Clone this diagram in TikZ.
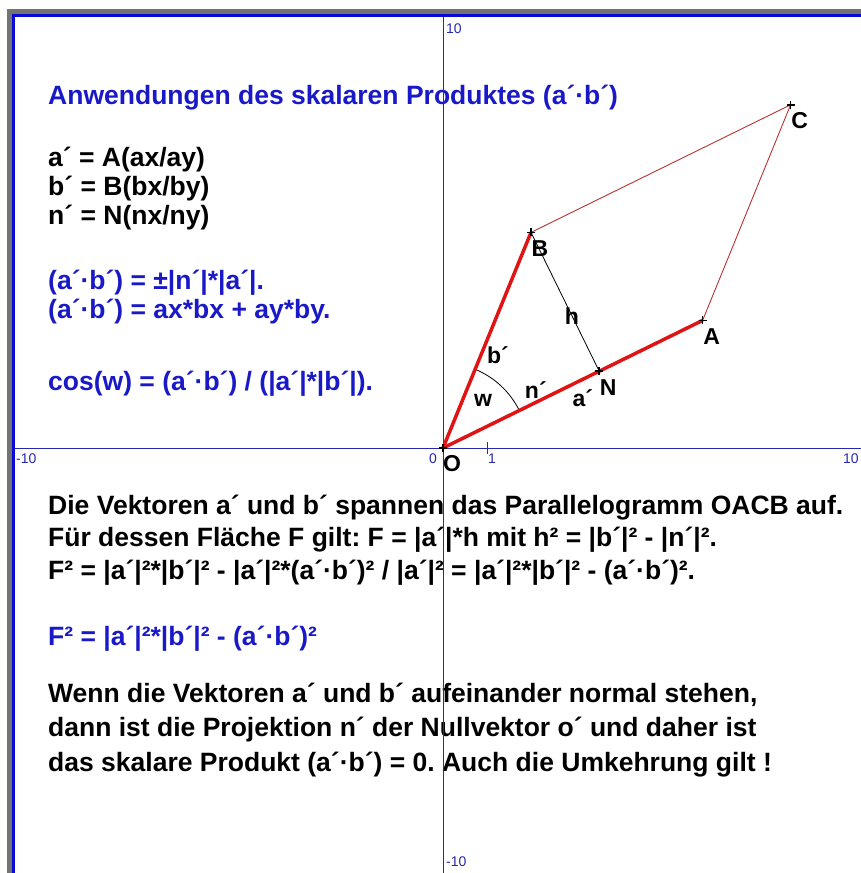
\documentclass[tikz,border=0pt]{standalone}
\usepackage{fontspec}
\setmainfont{Liberation Sans}
\usetikzlibrary{calc,angles}
\frenchspacing

\definecolor{textblau}{RGB}{25,25,200}
\definecolor{achsblau}{RGB}{40,40,175}
\definecolor{rahmblau}{RGB}{10,10,215}
\definecolor{rahmgrau}{RGB}{115,115,115}
\definecolor{vecrot}{RGB}{225,20,20}
\definecolor{seitrot}{RGB}{185,50,50}

\begin{document}
\begin{tikzpicture}[
    x=1pt, y=-1pt,
    txt/.style={anchor=base west, inner sep=0pt, font=\bfseries\fontsize{26.5}{30}\selectfont},
    formel/.style={txt, text=textblau},
    achse/.style={achsblau, line width=1pt},
    zahl/.style={text=achsblau, inner sep=0pt, font=\fontsize{14}{16}\selectfont},
    vec/.style={vecrot, line width=3.5pt},
    seite/.style={seitrot, line width=0.9pt},
    kreuz/.style={line width=1.5pt},
    lbl/.style={inner sep=0pt, font=\bfseries\fontsize{23}{26}\selectfont},
    ptlbl/.style={lbl, xshift=9pt, yshift=-16pt}
]
    \useasboundingbox (0,0) rectangle (861,873);

    % Fensterrahmen
    \fill[rahmgrau] (7,9) rectangle (861,14);
    \fill[rahmgrau] (7,9) rectangle (12,873);
    \draw[rahmblau, line width=3pt] (13.5,873) -- (13.5,15.5) -- (861,15.5);

    % Texte
    \node[formel] (titel) at (48,104) {Anwendungen des skalaren Produktes (a´·b´)};
    \node[txt] (za) at (48,166) {a´ = A(ax/ay)};
    \node[txt] (zb) at (48,195) {b´ = B(bx/by)};
    \node[txt] (zn) at (48,224) {n´ = N(nx/ny)};
    \node[formel] (f1) at (48,289) {(a´·b´) = ±|n´|*|a´|.};
    \node[formel] (f2) at (48,318) {(a´·b´) = ax*bx + ay*by.};
    \node[formel] (f3) at (48,390) {cos(w) = (a´·b´) / (|a´|*|b´|).};

    \node[txt] (p1) at (48,514) {Die Vektoren a´ und b´ spannen das Parallelogramm OACB auf.};
    \node[txt] (p2) at (48,546) {Für dessen Fläche F gilt: F = |a´|*h mit h² = |b´|² - |n´|².};
    \node[txt] (p3) at (48,579) {F² = |a´|²*|b´|² - |a´|²*(a´·b´)² / |a´|² = |a´|²*|b´|² - (a´·b´)².};
    \node[formel] (f4) at (48,645) {F² = |a´|²*|b´|² - (a´·b´)²};
    \node[txt] (w1) at (48,702) {Wenn die Vektoren a´ und b´ aufeinander normal stehen,};
    \node[txt] (w2) at (48,736) {dann ist die Projektion n´ der Nullvektor o´ und daher ist};
    \node[txt] (w3) at (48,771) {das skalare Produkt (a´·b´) = 0. Auch die Umkehrung gilt !};

    % Achsen
    \draw[achse] (15,448) -- (861,448);
    \draw[achse] (443,17) -- (443,873);
    \draw[achse] (487,442) -- (487,454);
    \node[zahl, anchor=west] (ytop) at (446,29) {10};
    \node[zahl, anchor=west] (ybot) at (446,862) {-10};
    \node[zahl, anchor=west] (xlinks) at (16,459) {-10};
    \node[zahl, anchor=west] (xrechts) at (843,459) {10};
    \node[zahl] (null) at (433,459) {0};
    \node[zahl] (eins) at (492,459) {1};

    % Parallelogramm
    \begin{scope}[shift={(443,448)}, x=44pt, y=44pt]
        \coordinate (O) at (0,0);
        \coordinate (A) at (5.9,2.9);
        \coordinate (B) at (2,4.9);
        \coordinate (C) at (7.9,7.8);
        \coordinate (N) at ($(O)!(B)!(A)$);

        \draw[seite] (B) -- (C) -- (A);
        \draw[line width=0.8pt] (B) -- node[lbl, pos=.6] (lh) {h} (N);
        \pic[draw, line width=0.8pt, angle radius=85pt] {angle=A--O--B};
        \draw[vec] (O) -- (A);
        \draw[vec] (O) -- (B);

        \foreach \p in {O,A,B,C,N}
            \draw[kreuz] (\p) +(-4pt,0) -- +(4pt,0) +(0,-4pt) -- +(0,4pt);

        \node[ptlbl] (lO) at (O) {O};
        \node[ptlbl] (lA) at (A) {A};
        \node[ptlbl] (lB) at (B) {B};
        \node[ptlbl] (lC) at (C) {C};
        \node[ptlbl] (lN) at (N) {N};

        \node[lbl] (lb) at (1.25,2.11) {b´};
        \node[lbl] (lw) at (0.91,1.09) {w};
        \node[lbl] (ln) at (2.11,1.32) {n´};
        \node[lbl] (la) at (3.18,1.14) {a´};
    \end{scope}
\end{tikzpicture}
\end{document}
